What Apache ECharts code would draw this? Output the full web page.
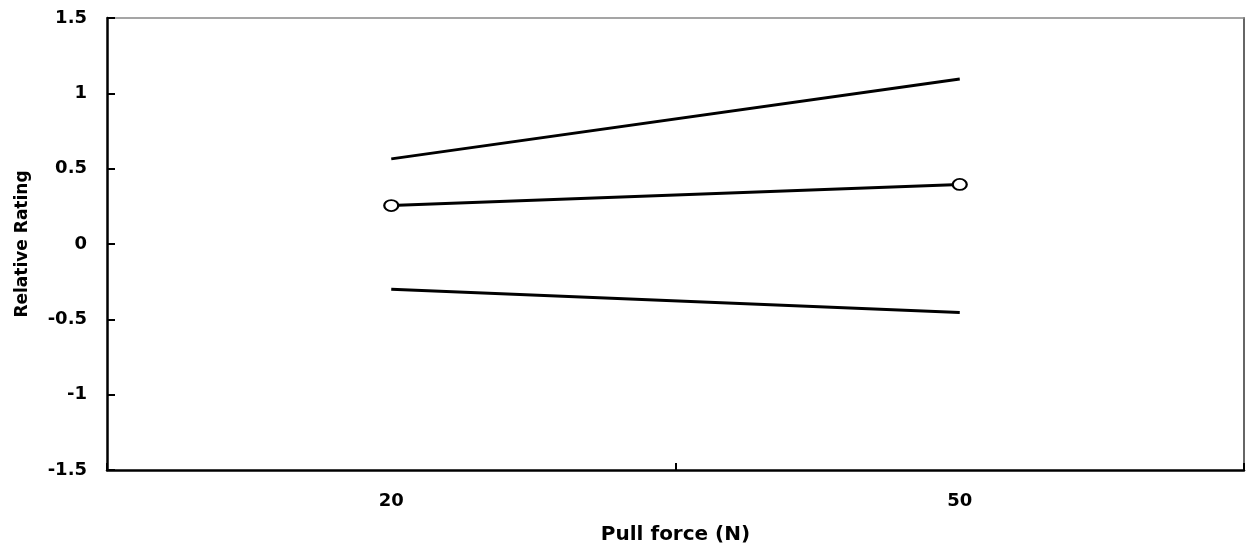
<!DOCTYPE html>
<html>
<head>
<meta charset="utf-8">
<script src="https://cdn.jsdelivr.net/npm/echarts@6/dist/echarts.min.js"></script>
<style>
html,body{margin:0;padding:0;background:#fff;}
#c{width:1246px;height:550px;}
</style>
</head>
<body>
<div id="c"></div>
<script>
var categories = ['20', '50'];
var upperValues = [0.565, 1.095];
var meanValues = [0.255, 0.395];
var lowerValues = [-0.30, -0.455];
var yTickLabels = ['-1.5', '-1', '-0.5', '0', '0.5', '1', '1.5'];
var xAxisTitle = 'Pull force (N)';
var yAxisTitle = 'Relative Rating';

var font = '"DejaVu Sans", "Liberation Sans", Arial, sans-serif';
var chart = echarts.init(document.getElementById('c'), null, {renderer: 'canvas'});
chart.setOption({
  animation: false,
  backgroundColor: '#fff',
  grid: {left: 107, right: 2, top: 18, bottom: 75, show: false},
  xAxis: [{
    type: 'category',
    data: categories,
    boundaryGap: true,
    position: 'bottom',
    name: xAxisTitle,
    nameLocation: 'middle',
    nameGap: 55,
    nameTextStyle: {fontFamily: font, fontWeight: 'bold', fontSize: 20, color: '#000'},
    axisLine: {onZero: false, lineStyle: {color: '#000', width: 2.5}},
    axisTick: {show: true, interval: 0, alignWithLabel: false, inside: true, length: 7, lineStyle: {color: '#000', width: 2}},
    axisLabel: {fontFamily: font, fontWeight: 'bold', fontSize: 18, color: '#000', margin: 22, interval: 0},
    splitLine: {show: false},
    z: 5
  }, {
    type: 'category',
    data: categories,
    position: 'top',
    axisLine: {onZero: false, lineStyle: {color: '#888', width: 1.5}},
    axisTick: {show: false},
    axisLabel: {show: false},
    splitLine: {show: false}
  }],
  yAxis: [{
    type: 'value',
    min: -1.5, max: 1.5, interval: 0.5,
    position: 'left',
    name: yAxisTitle,
    nameLocation: 'middle',
    nameGap: 76,
    nameTextStyle: {fontFamily: font, fontWeight: 'bold', fontSize: 17, color: '#000'},
    axisLine: {show: true, onZero: false, lineStyle: {color: '#000', width: 2.5}},
    axisTick: {show: true, inside: true, length: 8, lineStyle: {color: '#000', width: 2}},
    axisLabel: {
      fontFamily: font, fontWeight: 'bold', fontSize: 18, color: '#000', margin: 20,
      formatter: function (v) {
        var idx = Math.round((v + 1.5) / 0.5);
        return yTickLabels[idx];
      }
    },
    splitLine: {show: false},
    z: 5
  }, {
    type: 'value',
    min: -1.5, max: 1.5, interval: 0.5,
    position: 'right',
    axisLine: {show: true, onZero: false, lineStyle: {color: '#666', width: 2}},
    axisTick: {show: false},
    axisLabel: {show: false},
    splitLine: {show: false}
  }],
  series: [
    {type: 'line', data: upperValues, symbol: 'none', lineStyle: {color: '#000', width: 3}},
    {type: 'line', data: meanValues, symbol: 'emptyCircle', symbolSize: [14, 11],
      itemStyle: {color: '#000', borderColor: '#000', borderWidth: 1.3},
      lineStyle: {color: '#000', width: 3}, z: 3},
    {type: 'line', data: lowerValues, symbol: 'none', lineStyle: {color: '#000', width: 3}}
  ]
});
</script>
</body>
</html>
